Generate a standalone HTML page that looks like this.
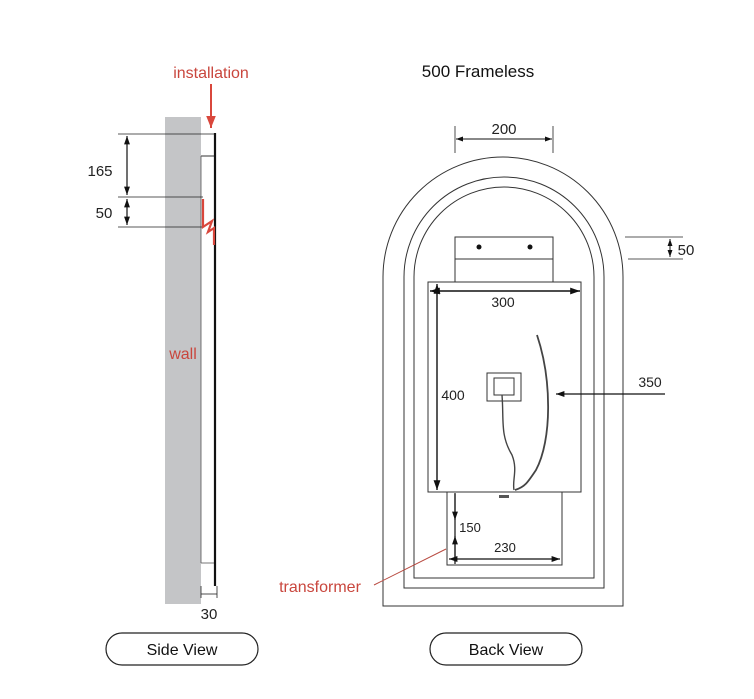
<!DOCTYPE html>
<html><head><style>body{margin:0;background:#fff}svg{display:block}</style></head><body>
<svg width="754" height="699" viewBox="0 0 754 699" xmlns="http://www.w3.org/2000/svg" font-family="Liberation Sans, Arial, sans-serif">
<defs>
<marker id="a" viewBox="0 0 10 10" refX="10" refY="5" markerWidth="7" markerHeight="7" orient="auto-start-reverse"><path d="M0,1.5L10,5L0,8.5z" fill="#111"/></marker>
<marker id="r" viewBox="0 0 10 10" refX="10" refY="5" markerWidth="6" markerHeight="7" orient="auto"><path d="M0,1L10,5L0,9z" fill="#d9473c"/></marker>
</defs>
<!-- Side view -->
<text x="211" y="78" font-size="16" fill="#c9463d" text-anchor="middle">installation</text>
<line x1="211" y1="84" x2="211" y2="128" stroke="#d9473c" stroke-width="2" marker-end="url(#r)"/>
<rect x="165" y="117" width="36" height="487" fill="#c4c5c7"/>
<polyline points="201,156 215,156" stroke="#333" fill="none" stroke-width="1"/>
<line x1="201" y1="156" x2="201" y2="563" stroke="#555" stroke-width="0.8"/>
<line x1="201" y1="563" x2="215" y2="563" stroke="#555" stroke-width="0.8"/>
<line x1="215" y1="133" x2="215" y2="586" stroke="#111" stroke-width="2.2"/>
<line x1="118" y1="134" x2="215" y2="134" stroke="#222" stroke-width="0.8"/>
<line x1="118" y1="197" x2="203" y2="197" stroke="#222" stroke-width="0.8"/>
<line x1="118" y1="227" x2="203" y2="227" stroke="#222" stroke-width="0.8"/>
<line x1="127" y1="136" x2="127" y2="195" stroke="#111" stroke-width="1.2" marker-start="url(#a)" marker-end="url(#a)"/>
<line x1="127" y1="199" x2="127" y2="225" stroke="#111" stroke-width="1.2" marker-start="url(#a)" marker-end="url(#a)"/>
<text x="100" y="176" font-size="15" fill="#222" text-anchor="middle">165</text>
<text x="104" y="218" font-size="15" fill="#222" text-anchor="middle">50</text>
<polyline points="203,199 203,227 212,221 208,232 214,228 214,245" stroke="#d9473c" stroke-width="2.2" fill="none"/>
<text x="183" y="359" font-size="16" fill="#c9463d" text-anchor="middle">wall</text>
<line x1="201" y1="586" x2="201" y2="598" stroke="#222" stroke-width="0.8"/>
<line x1="217" y1="586" x2="217" y2="598" stroke="#222" stroke-width="0.8"/>
<line x1="201" y1="594" x2="217" y2="594" stroke="#222" stroke-width="0.8"/>
<text x="209" y="619" font-size="15" fill="#222" text-anchor="middle">30</text>
<rect x="106" y="633" width="152" height="32" rx="16" fill="none" stroke="#222" stroke-width="1.2"/>
<text x="182" y="655" font-size="16" fill="#111" text-anchor="middle">Side View</text>
<!-- Back view -->
<text x="478" y="77" font-size="17" fill="#111" text-anchor="middle">500 Frameless</text>
<line x1="455" y1="126" x2="455" y2="153" stroke="#222" stroke-width="0.8"/>
<line x1="553" y1="126" x2="553" y2="153" stroke="#222" stroke-width="0.8"/>
<line x1="456" y1="139" x2="552" y2="139" stroke="#111" stroke-width="1" marker-start="url(#a)" marker-end="url(#a)"/>
<text x="504" y="134" font-size="15" fill="#222" text-anchor="middle">200</text>
<path d="M383,606 V277 A120,120 0 0 1 623,277 V606 Z" fill="none" stroke="#333" stroke-width="1"/>
<path d="M404,588 V277 A100,100 0 0 1 604,277 V588 Z" fill="none" stroke="#333" stroke-width="1"/>
<path d="M414,578 V277 A90,90 0 0 1 594,277 V578 Z" fill="none" stroke="#333" stroke-width="1"/>
<line x1="625" y1="237" x2="683" y2="237" stroke="#222" stroke-width="0.8"/>
<line x1="628" y1="259" x2="683" y2="259" stroke="#222" stroke-width="0.8"/>
<line x1="670" y1="239" x2="670" y2="257" stroke="#111" stroke-width="1" marker-start="url(#a)" marker-end="url(#a)"/>
<text x="686" y="255" font-size="15" fill="#222" text-anchor="middle">50</text>
<rect x="455" y="237" width="98" height="45" fill="#fff" stroke="#333" stroke-width="1"/>
<line x1="455" y1="259" x2="553" y2="259" stroke="#333" stroke-width="1"/>
<circle cx="479" cy="247" r="2.5" fill="#111"/><circle cx="530" cy="247" r="2.5" fill="#111"/>
<rect x="447" y="492" width="115" height="73" fill="#fff" stroke="#333" stroke-width="1"/>
<rect x="428" y="282" width="153" height="210" fill="#fff" stroke="#333" stroke-width="1"/>
<line x1="430" y1="291" x2="580" y2="291" stroke="#111" stroke-width="1.4" marker-start="url(#a)" marker-end="url(#a)"/>
<text x="503" y="307" font-size="14" fill="#222" text-anchor="middle">300</text>
<line x1="437" y1="284" x2="437" y2="490" stroke="#111" stroke-width="1.4" marker-start="url(#a)" marker-end="url(#a)"/>
<text x="453" y="400" font-size="14" fill="#222" text-anchor="middle">400</text>
<line x1="665" y1="394" x2="556" y2="394" stroke="#111" stroke-width="1.2" marker-end="url(#a)"/>
<text x="650" y="387" font-size="14" fill="#222" text-anchor="middle">350</text>
<path d="M537,335 C552,380 552,440 536,470 C528,482 525,487 515,490" fill="none" stroke="#444" stroke-width="1.8"/>
<rect x="487" y="373" width="34" height="28" fill="#fff" stroke="#333" stroke-width="1"/>
<rect x="494" y="378" width="20" height="17" fill="#fff" stroke="#333" stroke-width="1"/>
<path d="M502,395 C504,420 500,435 512,455 C518,470 512,480 514,490" fill="none" stroke="#444" stroke-width="1.4"/>
<rect x="499" y="495" width="10" height="3" fill="#555"/>
<line x1="455" y1="493" x2="455" y2="564" stroke="#111" stroke-width="1.2"/>
<line x1="455" y1="494" x2="455" y2="520" stroke="#111" stroke-width="1.2" marker-end="url(#a)"/>
<line x1="455" y1="562" x2="455" y2="536" stroke="#111" stroke-width="1.2" marker-end="url(#a)"/>
<text x="470" y="532" font-size="13" fill="#222" text-anchor="middle">150</text>
<line x1="449" y1="559" x2="560" y2="559" stroke="#111" stroke-width="1.2" marker-start="url(#a)" marker-end="url(#a)"/>
<text x="505" y="552" font-size="13" fill="#222" text-anchor="middle">230</text>
<line x1="374" y1="585" x2="446" y2="549" stroke="#b84a40" stroke-width="1"/>
<text x="320" y="592" font-size="16" fill="#c9463d" text-anchor="middle">transformer</text>
<rect x="430" y="633" width="152" height="32" rx="16" fill="none" stroke="#222" stroke-width="1.2"/>
<text x="506" y="655" font-size="16" fill="#111" text-anchor="middle">Back View</text>
</svg>
</body></html>
